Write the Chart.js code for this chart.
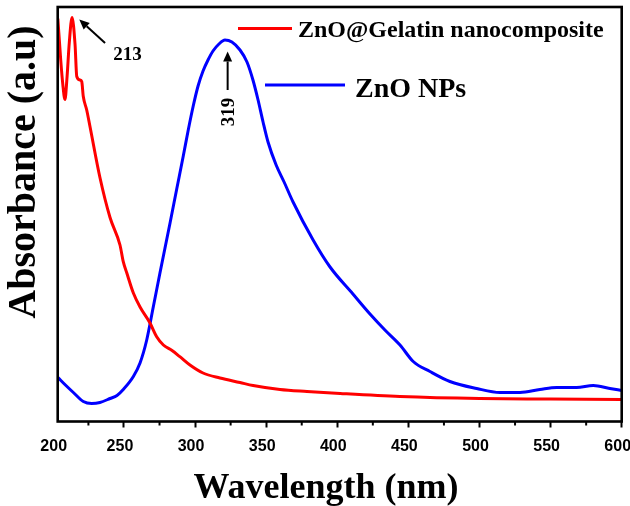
<!DOCTYPE html>
<html><head><meta charset="utf-8">
<script src="https://cdn.jsdelivr.net/npm/chart.js@4.4.1/dist/chart.umd.min.js"></script>
<style>html,body{margin:0;padding:0;background:#fff}#wrap{width:630px;height:506px;position:relative}</style>
</head><body><div id="wrap"><canvas id="c" width="630" height="506"></canvas></div>
<script>
// ---- data ----
const xTickValues = [203.4, 250, 300, 350, 400, 450, 500, 550, 600];
const xTickLabels = ['200', '250', '300', '350', '400', '450', '500', '550', '600'];
const xMinorTicks = [225, 275, 325, 375, 425, 475, 525, 575];
const seriesNames = ['ZnO@Gelatin nanocomposite', 'ZnO NPs'];
const axisTitles = ['Wavelength (nm)', 'Absorbance (a.u)'];
const peakLabels = ['213', '319'];

const gelatinWavelength = [203.5,205.5,207,208.5,210,211.5,213.5,215.6,216.8,219.1,220.3,221.4,223.8,226.1,233.1,240.2,247.2,249.5,252.0,256.6,261.3,268.3,273.0,277.7,283.8,289.3,296.4,305.6,317.5,331.6,340.8,359.7,378.7,402,444,500,550,600];
const gelatinAbsorbance = [4.03,3.62,3.37,3.22,3.45,3.78,4.04,3.77,3.45,3.415,3.40,3.25,3.115,2.95,2.44,2.04,1.765,1.598,1.485,1.285,1.145,0.985,0.848,0.765,0.71,0.648,0.565,0.485,0.435,0.39,0.36,0.32,0.30,0.28,0.25,0.23,0.225,0.22];

const npsWavelength = [203.6,209.2,214.4,221.4,227.3,233.1,240.2,245.1,249.5,256.6,261.3,266.0,270.6,275.3,282.4,287.1,291.7,295.2,298.7,302.1,305.6,309.1,312.6,316.8,321.0,325.9,331.6,336.5,340.7,344.3,347.8,351.3,357.0,362.6,368.9,383.0,394.9,411.0,423.0,433.5,444.1,453.4,465.2,479.2,498,514.4,528.5,542.5,554.3,568.3,580,591.7,600];
const npsAbsorbance = [0.44,0.36,0.29,0.20,0.18,0.19,0.23,0.26,0.32,0.45,0.585,0.815,1.145,1.485,1.985,2.325,2.655,2.915,3.155,3.355,3.505,3.615,3.705,3.775,3.815,3.795,3.715,3.595,3.415,3.215,2.995,2.795,2.565,2.395,2.195,1.815,1.545,1.275,1.075,0.915,0.765,0.60,0.50,0.40,0.33,0.29,0.29,0.32,0.34,0.34,0.36,0.33,0.31];

// ---- helpers ----
const SERIF = "'Liberation Serif','Times New Roman',serif";
const SANS = "'Liberation Sans',Arial,sans-serif";
const pts = (xs, ys) => xs.map((x, i) => ({x: x, y: ys[i]}));

function arrow(c, x1, y1, x2, y2) {
  const ang = Math.atan2(y2 - y1, x2 - x1), L = 10, W = 4.5;
  const bx = x2 - L * Math.cos(ang), by = y2 - L * Math.sin(ang);
  c.beginPath(); c.moveTo(x1, y1); c.lineTo(bx, by); c.stroke();
  c.beginPath(); c.moveTo(x2, y2);
  c.lineTo(bx + W * Math.sin(ang), by - W * Math.cos(ang));
  c.lineTo(bx - W * Math.sin(ang), by + W * Math.cos(ang));
  c.closePath(); c.fill();
}

const decor = {
  id: 'decor',
  beforeDraw(chart) {
    const c = chart.ctx; c.save(); c.fillStyle = '#fff'; c.fillRect(0, 0, chart.width, chart.height); c.restore();
  },
  afterDraw(chart) {
    const {ctx: c, chartArea: a, scales: {x, y}} = chart;
    c.save();
    c.strokeStyle = '#000'; c.fillStyle = '#000';
    // minor ticks
    c.lineWidth = 2;
    xMinorTicks.forEach(v => {
      const px = x.getPixelForValue(v);
      c.beginPath(); c.moveTo(px, a.bottom); c.lineTo(px, a.bottom + 4); c.stroke();
    });
    // frame
    c.lineWidth = 2.6;
    c.strokeRect(a.left, a.top, a.right - a.left, a.bottom - a.top);
    // peak annotations
    c.lineWidth = 2;
    arrow(c, x.getPixelForValue(236.7), y.getPixelForValue(3.785), x.getPixelForValue(218.6), y.getPixelForValue(4.02));
    arrow(c, x.getPixelForValue(322.9), y.getPixelForValue(3.315), x.getPixelForValue(322.9), y.getPixelForValue(3.70));
    c.font = 'bold 19px ' + SERIF;
    c.textAlign = 'left'; c.textBaseline = 'alphabetic';
    c.fillText(peakLabels[0], x.getPixelForValue(242.5), y.getPixelForValue(3.615));
    c.save();
    c.translate(x.getPixelForValue(322.9) + 6, y.getPixelForValue(3.095));
    c.rotate(-Math.PI / 2);
    c.textAlign = 'center';
    c.fillText(peakLabels[1], 0, 0);
    c.restore();
    // legend
    const ds = chart.data.datasets;
    c.lineWidth = 3;
    c.strokeStyle = ds[0].borderColor;
    c.beginPath(); c.moveTo(238, 28.5); c.lineTo(292, 28.5); c.stroke();
    c.strokeStyle = ds[1].borderColor;
    c.beginPath(); c.moveTo(265, 85); c.lineTo(345, 85); c.stroke();
    c.fillStyle = '#000'; c.textAlign = 'left';
    c.font = 'bold 24px ' + SERIF;
    c.fillText(ds[0].label, 298, 37);
    c.font = 'bold 28px ' + SERIF;
    c.fillText(ds[1].label, 355, 97);
    // axis titles
    c.font = 'bold 36px ' + SERIF;
    c.textAlign = 'center';
    c.fillText(chart.options.scales.x.title.text, 326, 498);
    c.save();
    c.translate(35, 172); c.rotate(-Math.PI / 2);
    c.font = 'bold 40px ' + SERIF;
    c.fillText(chart.options.scales.y.title.text, 0, 0);
    c.restore();
    c.restore();
  }
};

new Chart(document.getElementById('c'), {
  type: 'line',
  data: {
    datasets: [
      {label: seriesNames[0], data: pts(gelatinWavelength, gelatinAbsorbance), borderColor: '#ff0000', borderWidth: 3, pointRadius: 0, cubicInterpolationMode: 'monotone', fill: false},
      {label: seriesNames[1], data: pts(npsWavelength, npsAbsorbance), borderColor: '#0000ff', borderWidth: 3, pointRadius: 0, cubicInterpolationMode: 'monotone', fill: false}
    ]
  },
  options: {
    responsive: false, animation: false, devicePixelRatio: 1,
    layout: {padding: {left: 57.7, right: 8.3, top: 7, bottom: 0}},
    plugins: {legend: {display: false}, tooltip: {enabled: false}},
    scales: {
      x: {
        type: 'linear', min: xTickValues[0], max: 600,
        title: {display: false, text: axisTitles[0]},
        border: {display: false},
        grid: {display: true, drawOnChartArea: false, drawTicks: true, tickLength: 6, tickWidth: 2,
               tickColor: ctx => ctx.index === 0 ? 'rgba(0,0,0,0)' : '#000'},
        afterBuildTicks: s => { s.ticks = xTickValues.map(v => ({value: v})); },
        afterFit: s => { s.height = 84.5; s.paddingLeft = 0; s.paddingRight = 0; },
        ticks: {
          autoSkip: false, maxRotation: 0, minRotation: 0, padding: 9, labelOffset: -4,
          color: '#000', font: {family: SANS, weight: 'bold', size: 16},
          callback: (v, i) => xTickLabels[i]
        }
      },
      y: {
        type: 'linear', display: false, min: 0, max: 4.145,
        title: {display: false, text: axisTitles[1]}
      }
    }
  },
  plugins: [decor]
});
</script>
</body></html>
